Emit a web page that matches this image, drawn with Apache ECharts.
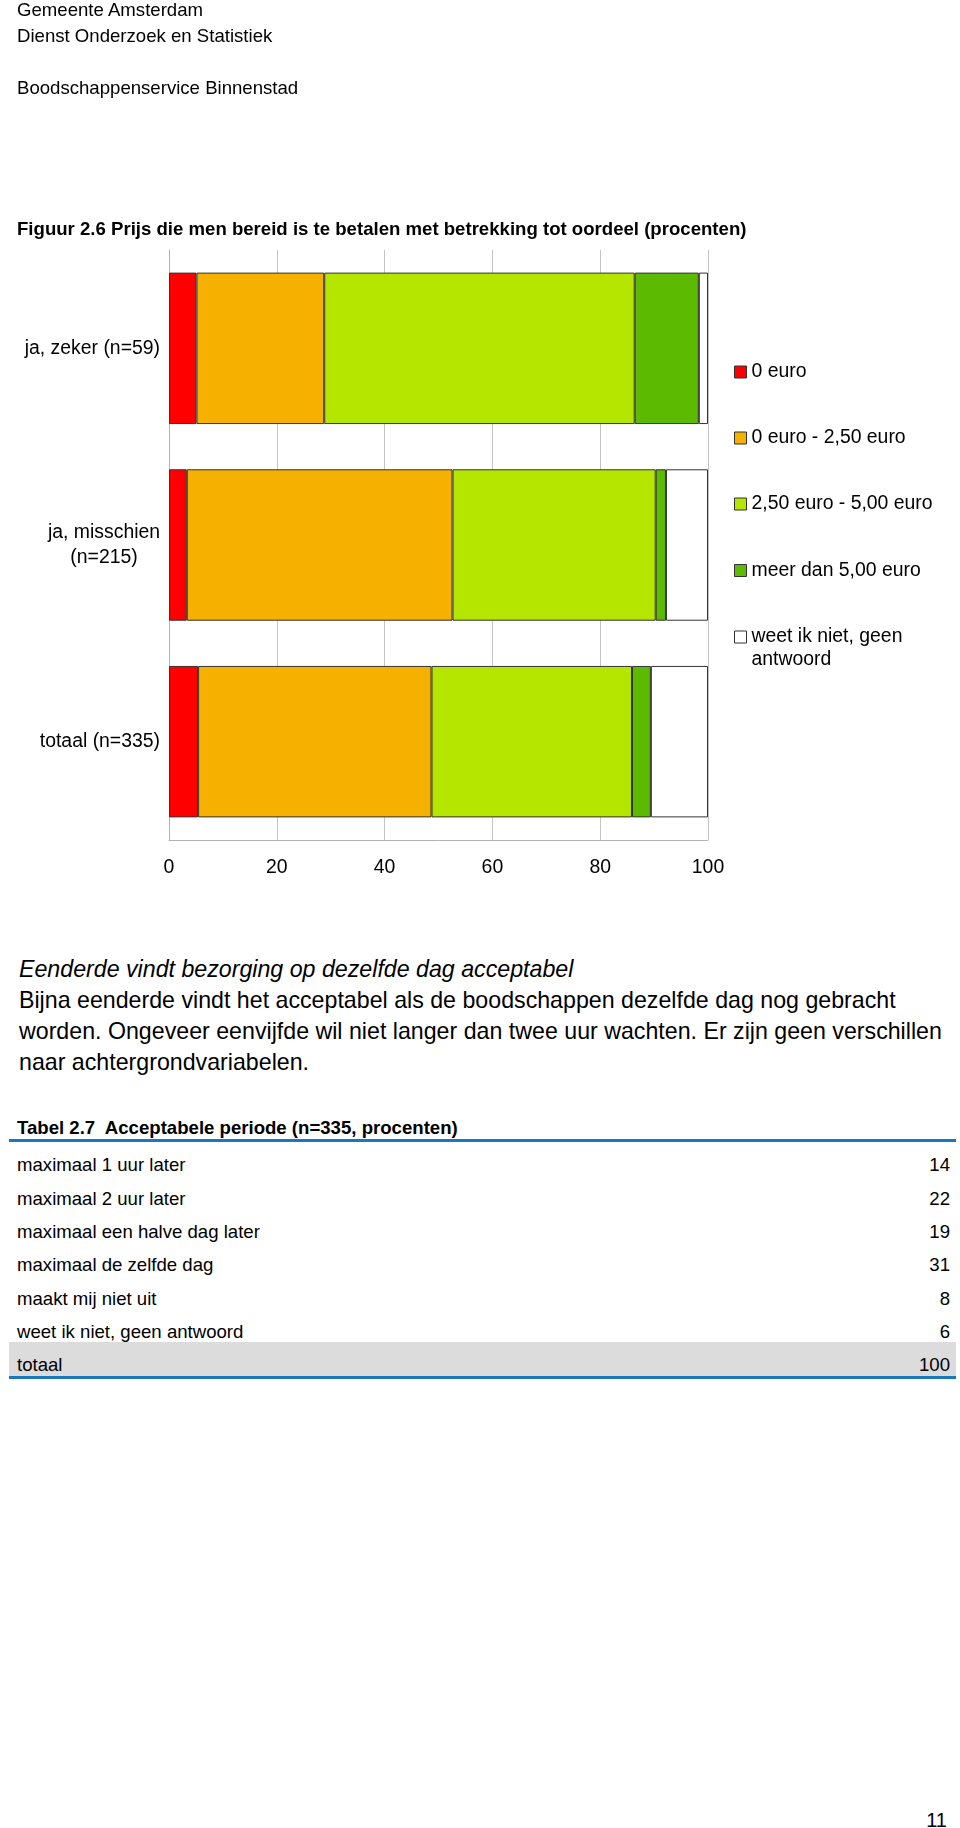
<!DOCTYPE html>
<html>
<head>
<meta charset="utf-8">
<script src="https://cdn.jsdelivr.net/npm/echarts@6/dist/echarts.min.js"></script>
<style>
  html, body { margin: 0; padding: 0; background: #fff; }
  #page { position: relative; width: 960px; height: 1828px; overflow: hidden; font-family: "Liberation Sans", Arial, Helvetica, sans-serif; color: #000; }
  .t { position: absolute; white-space: nowrap; }
  #chart { position: absolute; left: 0; top: 0; width: 960px; height: 900px; }
</style>
</head>
<body>
<div id="page">
  <div id="chart"></div>
  <div class="t" style="left:17px; top:-1px; font-size:18.6px; line-height:22px;">Gemeente Amsterdam</div>
  <div class="t" style="left:17px; top:25px; font-size:18.6px; line-height:22px;">Dienst Onderzoek en Statistiek</div>
  <div class="t" style="left:17px; top:77px; font-size:18.6px; line-height:22px;">Boodschappenservice Binnenstad</div>
  <div class="t" style="left:17px; top:217.5px; font-size:18.6px; line-height:22px; font-weight:bold;">Figuur 2.6 Prijs die men bereid is te betalen met betrekking tot oordeel (procenten)</div>

  <div class="t" style="left:19px; top:953.5px; font-size:23.2px; line-height:31px;">
    <i>Eenderde vindt bezorging op dezelfde dag acceptabel</i><br>
    Bijna eenderde vindt het acceptabel als de boodschappen dezelfde dag nog gebracht<br>
    worden. Ongeveer eenvijfde wil niet langer dan twee uur wachten. Er zijn geen verschillen<br>
    naar achtergrondvariabelen.
  </div>

  <div class="t" style="left:17px; top:1117px; font-size:18.6px; line-height:22px; font-weight:bold;">Tabel 2.7&nbsp; Acceptabele periode (n=335, procenten)</div>
  <div id="table"></div>

  <div class="t" style="left:900px; width:47px; text-align:right; top:1808px; font-size:20px; line-height:24px;">11</div>
</div>
<script>
// ---- chart data ----
const categories = ['ja, zeker (n=59)', 'ja, misschien\n(n=215)', 'totaal (n=335)'];
const seriesNames = ['0 euro', '0 euro - 2,50 euro', '2,50 euro - 5,00 euro', 'meer dan 5,00 euro', 'weet ik niet, geen\nantwoord'];
const euro0 = [5.1, 3.3, 5.4];
const euroTo250 = [23.7, 49.3, 43.3];
const euro250to500 = [57.6, 37.7, 37.2];
const euroOver500 = [11.9, 1.9, 3.5];
const weetNiet = [1.7, 7.8, 10.6];
const xTicks = [0, 20, 40, 60, 80, 100];
const seriesColors = ['#ff0000', '#f5b000', '#b5e600', '#5cba00', '#ffffff'];

// ---- table data ----
const tableLabels = ['maximaal 1 uur later', 'maximaal 2 uur later', 'maximaal een halve dag later', 'maximaal de zelfde dag', 'maakt mij niet uit', 'weet ik niet, geen antwoord', 'totaal'];
const tableValues = [14, 22, 19, 31, 8, 6, 100];

// build table
(function () {
  const t = document.getElementById('table');
  let html = '';
  html += '<div style="position:absolute;left:9px;width:947px;top:1139px;height:3px;background:#1c78bd;"></div>';
  const rowTop0 = 1148.3, rowH = 33.3;
  tableLabels.forEach(function (lab, i) {
    const top = rowTop0 + i * rowH;
    if (i === tableLabels.length - 1) {
      html += '<div style="position:absolute;left:9px;width:947px;top:' + (top - 6) + 'px;height:33.5px;background:#dcdcdc;"></div>';
    }
    html += '<div class="t" style="left:17px;top:' + top + 'px;font-size:18.6px;line-height:34px;height:34px;">' + lab + '</div>';
    html += '<div class="t" style="left:850px;width:100px;text-align:right;top:' + top + 'px;font-size:18.6px;line-height:34px;">' + tableValues[i] + '</div>';
  });
  html += '<div style="position:absolute;left:9px;width:947px;top:1375.5px;height:3px;background:#1c78bd;"></div>';
  t.innerHTML = html;
})();

const seriesData = [euro0, euroTo250, euro250to500, euroOver500, weetNiet];
const chart = echarts.init(document.getElementById('chart'), null, { renderer: 'canvas' });
const FONT = '"Liberation Sans", Arial, Helvetica, sans-serif';
const legendCenters = [372, 438, 504, 570.5, 637];

const legends = seriesNames.map(function (name, i) {
  const multi = name.indexOf('\n') >= 0;
  return {
    show: true,
    orient: 'vertical',
    left: 734,
    top: multi ? legendCenters[i] - 34.5 : legendCenters[i] - 11.5,
    padding: 0,
    itemWidth: 12,
    itemHeight: 12,
    icon: 'rect',
    selectedMode: false,
    itemStyle: { borderColor: '#333', borderWidth: 1 },
    textStyle: { fontSize: 19.4, lineHeight: 23, color: '#000', fontFamily: FONT },
    // multi-line entry: a leading empty line keeps the icon level with the first text line
    formatter: multi ? function (n) { return '\n' + n; } : '{name}',
    data: [name]
  };
});

const option = {
  animation: false,
  backgroundColor: 'transparent',
  textStyle: { fontFamily: FONT },
  legend: legends,
  grid: { left: 169, top: 250, width: 539, height: 590, containLabel: false },
  xAxis: {
    type: 'value',
    min: xTicks[0],
    max: xTicks[xTicks.length - 1],
    interval: xTicks[1] - xTicks[0],
    axisLine: { show: true, lineStyle: { color: '#b3b3b3', width: 1 } },
    axisTick: { show: false },
    axisLabel: { fontSize: 19.4, color: '#000', margin: 18, fontFamily: FONT },
    splitLine: { show: true, lineStyle: { color: '#c4c4c4', width: 1 } }
  },
  yAxis: {
    type: 'category',
    inverse: true,
    data: categories,
    axisLine: { show: true, lineStyle: { color: '#b3b3b3', width: 1 } },
    axisTick: { show: false },
    axisLabel: {
      fontSize: 19.4,
      color: '#000',
      margin: 9,
      lineHeight: 25,
      fontFamily: FONT,
      formatter: function (v) {
        if (v.indexOf('\n') >= 0) {
          return v.split('\n').map(function (s) { return '{c|' + s + '}'; }).join('\n');
        }
        return v;
      },
      rich: { c: { width: 112, align: 'center', fontSize: 19.4, lineHeight: 25, color: '#000', fontFamily: FONT } }
    }
  },
  series: seriesNames.map(function (name, i) {
    return {
      name: name,
      type: 'bar',
      stack: 'total',
      barCategoryGap: '23%',
      data: seriesData[i],
      itemStyle: { color: seriesColors[i], borderColor: '#333', borderWidth: 1 },
      emphasis: { disabled: true }
    };
  })
};
chart.setOption(option);
</script>
</body>
</html>
